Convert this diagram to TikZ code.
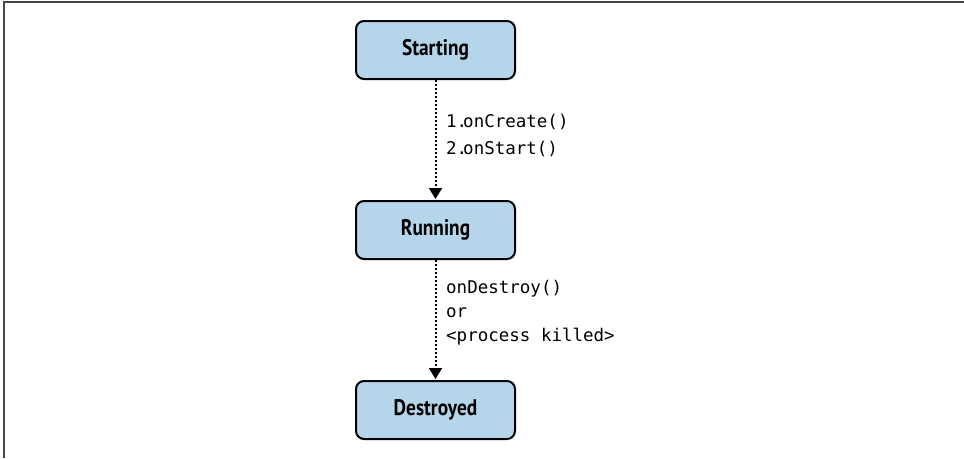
\documentclass[tikz,border=0pt]{standalone}
\usepackage{fontspec}
\setmainfont{PT Sans}
\setmonofont{DejaVu Sans Mono}
\newfontfamily\condfont[FakeStretch=0.86]{PT Sans}
\usetikzlibrary{arrows.meta}
\definecolor{boxfill}{RGB}{180,213,234}
\definecolor{framegray}{RGB}{70,70,70}
\tikzset{
  state/.style={draw=black, line width=2pt, rounded corners=8pt, fill=boxfill,
    minimum width=159pt, minimum height=58pt, inner sep=0pt,
    font=\condfont\fontsize{22.5}{24}\selectfont\bfseries},
  trans/.style={line width=2pt, dotted, -{Triangle[width=13pt,length=11pt]}, shorten >=1pt},
  lbl/.style={anchor=west, align=left, inner sep=0pt}
}
\newcommand{\numlbl}[1]{\makebox[17pt][l]{#1}}
\begin{document}
\begin{tikzpicture}[x=1pt,y=-1pt]
\useasboundingbox (0,0) rectangle (964,458);
\draw[framegray, line width=2pt] (4,458) -- (4,1.5) -- (964,1.5);
\node[state] (start) at (435.5,50) {Starting};
\node[state] (run) at (435.5,230) {Running};
\node[state] (dest) at (435.5,410) {Destroyed};
\draw[trans] (start.south) -- (run.north);
\draw[trans] (run.south) -- (dest.north);
\node[lbl, font=\fontsize{17.5}{27}\selectfont\ttfamily] (l1) at (446,135.5) {\numlbl{1.}onCreate()\\\numlbl{2.}onStart()};
\node[lbl, font=\fontsize{17.5}{24}\selectfont\ttfamily] (l2) at (446,313) {onDestroy()\\or\\<process killed>};
\end{tikzpicture}
\end{document}
